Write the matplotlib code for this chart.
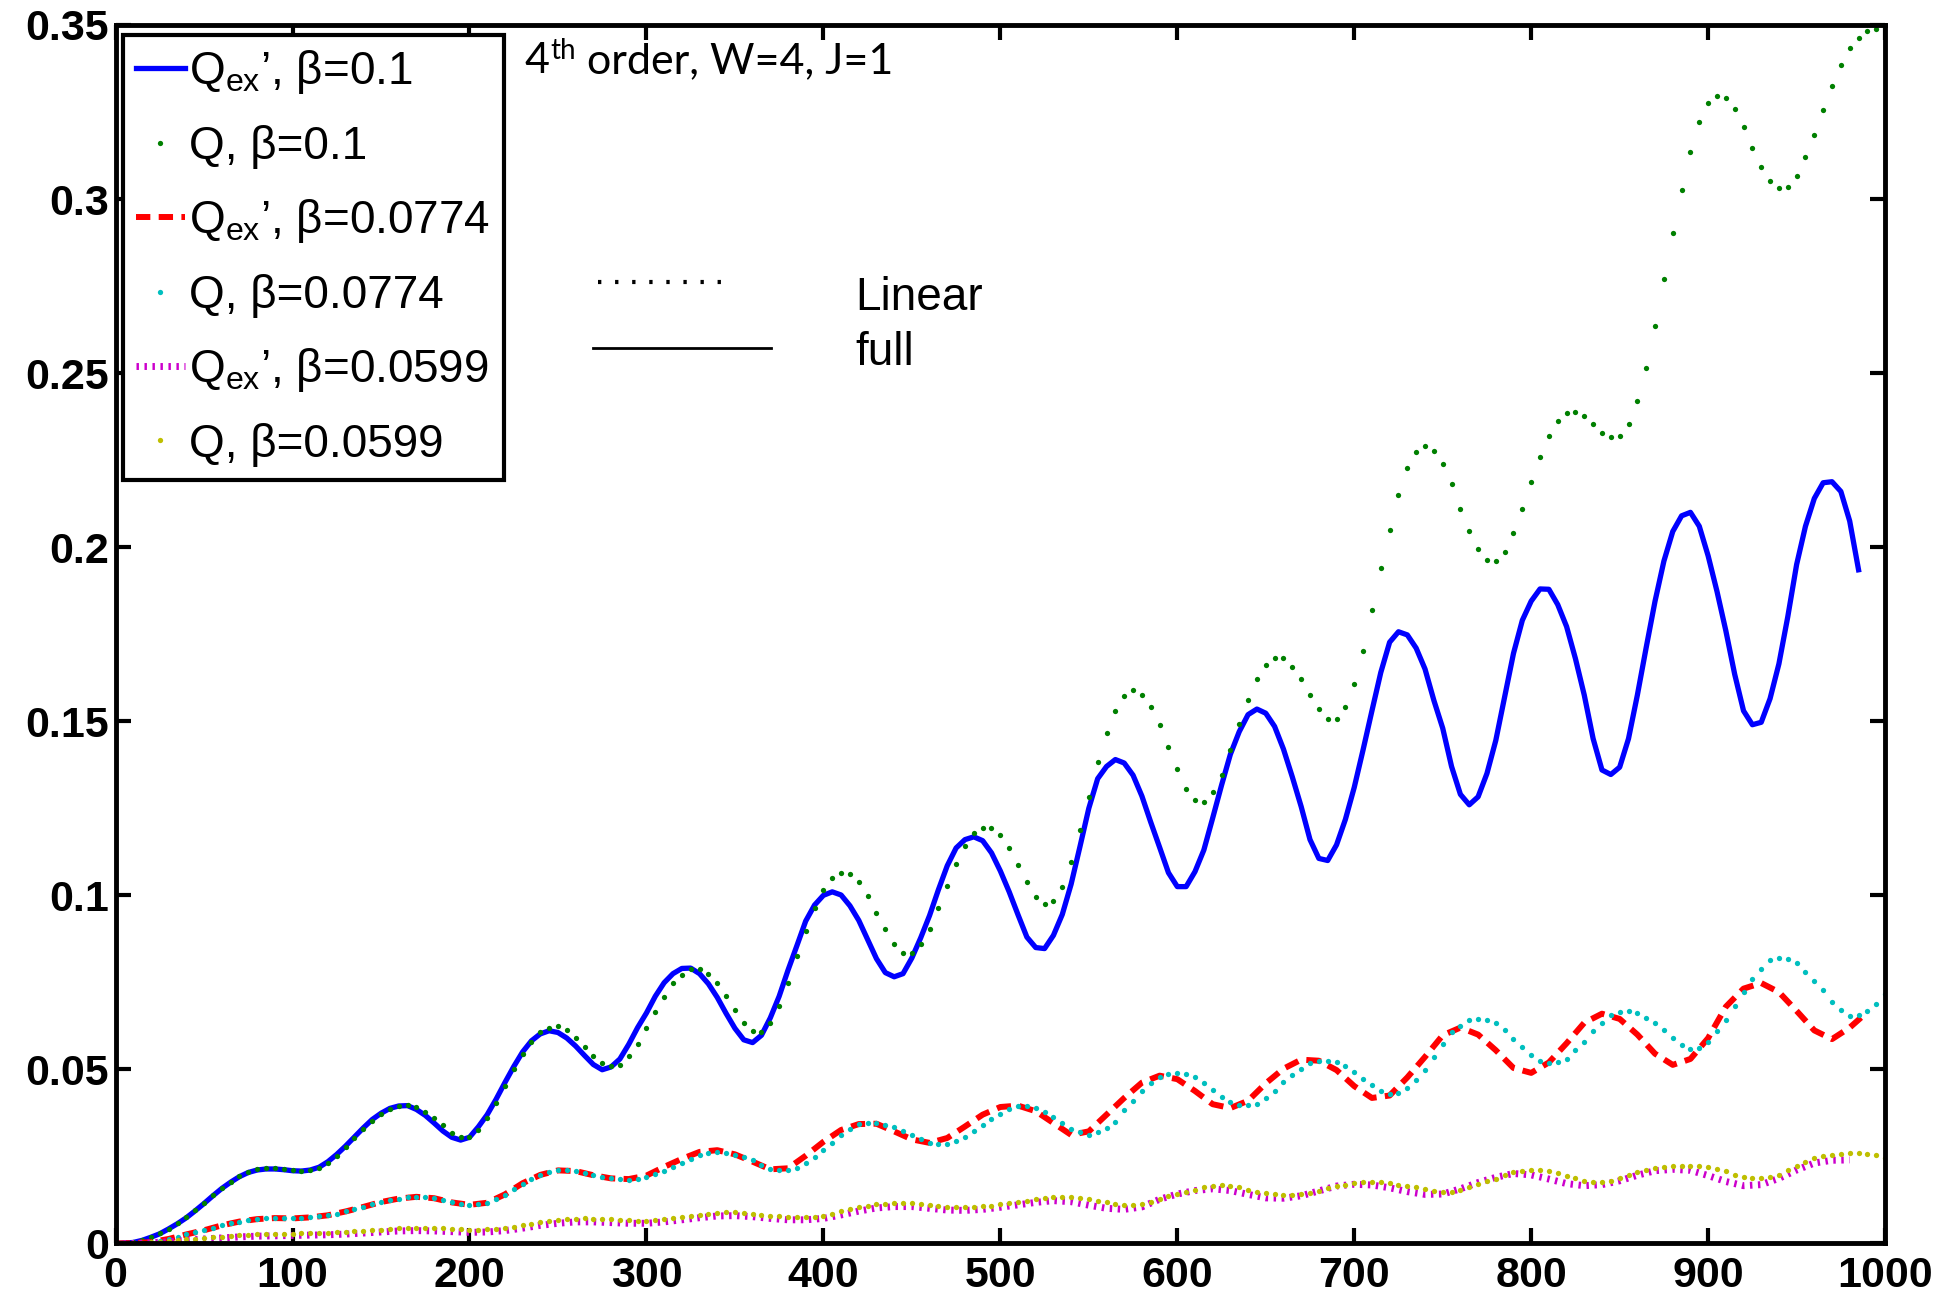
import numpy as np
import matplotlib
matplotlib.use("Agg")
import matplotlib.pyplot as plt

plt.rcParams["font.family"] = "Liberation Sans"
plt.rcParams["mathtext.fontset"] = "custom"
plt.rcParams["mathtext.rm"] = "Liberation Sans"
plt.rcParams["mathtext.it"] = "Liberation Sans:italic"

# sample spacing of the curves (x units)
step_fine = 5
step_coarse = 10

# Q_ex, beta=0.1 (solid blue), x = 0..985 every 5
qex_01 = [
    0.0000, 0.0001, 0.0003, 0.0009, 0.0018, 0.0028, 0.0042, 0.0057, 0.0074, 0.0094,
    0.0115, 0.0137, 0.0158, 0.0176, 0.0192, 0.0204, 0.0211, 0.0214, 0.0214, 0.0212,
    0.0209, 0.0208, 0.0211, 0.0219, 0.0235, 0.0256, 0.0280, 0.0306, 0.0332, 0.0356,
    0.0374, 0.0388, 0.0395, 0.0396, 0.0385, 0.0368, 0.0346, 0.0323, 0.0305, 0.0297,
    0.0305, 0.0335, 0.0370, 0.0414, 0.0462, 0.0508, 0.0550, 0.0582, 0.0602, 0.0611,
    0.0606, 0.0590, 0.0567, 0.0540, 0.0514, 0.0499, 0.0507, 0.0530, 0.0572, 0.0620,
    0.0662, 0.0710, 0.0749, 0.0775, 0.0790, 0.0791, 0.0775, 0.0746, 0.0707, 0.0661,
    0.0618, 0.0585, 0.0577, 0.0598, 0.0648, 0.0710, 0.0785, 0.0855, 0.0926, 0.0972,
    0.1000, 0.1010, 0.1001, 0.0970, 0.0928, 0.0873, 0.0818, 0.0778, 0.0766, 0.0775,
    0.0820, 0.0878, 0.0942, 0.1016, 0.1085, 0.1136, 0.1160, 0.1168, 0.1157, 0.1122,
    0.1070, 0.1010, 0.0944, 0.0880, 0.0850, 0.0847, 0.0885, 0.0945, 0.1032, 0.1140,
    0.1250, 0.1335, 0.1370, 0.1390, 0.1380, 0.1345, 0.1285, 0.1210, 0.1138, 0.1065,
    0.1025, 0.1025, 0.1068, 0.1130, 0.1222, 0.1316, 0.1405, 0.1470, 0.1519, 0.1535,
    0.1523, 0.1485, 0.1420, 0.1340, 0.1255, 0.1160, 0.1106, 0.1100, 0.1145, 0.1218,
    0.1310, 0.1418, 0.1530, 0.1640, 0.1727, 0.1757, 0.1748, 0.1710, 0.1650, 0.1560,
    0.1480, 0.1370, 0.1290, 0.1260, 0.1283, 0.1350, 0.1445, 0.1570, 0.1695, 0.1790,
    0.1845, 0.1880, 0.1879, 0.1835, 0.1772, 0.1680, 0.1575, 0.1450, 0.1360, 0.1347,
    0.1368, 0.1450, 0.1575, 0.1712, 0.1845, 0.1960, 0.2045, 0.2090, 0.2100, 0.2060,
    0.1975, 0.1873, 0.1760, 0.1635, 0.1530, 0.1490, 0.1497, 0.1565, 0.1665, 0.1800,
    0.1950, 0.2060, 0.2140, 0.2185, 0.2188, 0.2160, 0.2075, 0.1935,
]

# Q, beta=0.1 (green dots), x = 0..1000 every 5
q_01 = [
    0.0000, 0.0001, 0.0003, 0.0009, 0.0018, 0.0029, 0.0043, 0.0058, 0.0075, 0.0095,
    0.0116, 0.0138, 0.0159, 0.0177, 0.0193, 0.0205, 0.0213, 0.0216, 0.0216, 0.0214,
    0.0211, 0.0209, 0.0211, 0.0218, 0.0232, 0.0252, 0.0276, 0.0302, 0.0328, 0.0353,
    0.0372, 0.0387, 0.0396, 0.0398, 0.0392, 0.0378, 0.0361, 0.0340, 0.0318, 0.0305,
    0.0306, 0.0326, 0.0360, 0.0404, 0.0452, 0.0500, 0.0545, 0.0580, 0.0606, 0.0620,
    0.0624, 0.0613, 0.0591, 0.0565, 0.0538, 0.0519, 0.0509, 0.0514, 0.0538, 0.0573,
    0.0618, 0.0664, 0.0709, 0.0747, 0.0771, 0.0788, 0.0787, 0.0774, 0.0749, 0.0711,
    0.0670, 0.0634, 0.0610, 0.0606, 0.0632, 0.0682, 0.0749, 0.0825, 0.0898, 0.0964,
    0.1015, 0.1050, 0.1065, 0.1061, 0.1037, 0.0998, 0.0950, 0.0902, 0.0860, 0.0833,
    0.0833, 0.0859, 0.0904, 0.0964, 0.1028, 0.1090, 0.1141, 0.1178, 0.1194, 0.1194,
    0.1173, 0.1135, 0.1087, 0.1037, 0.0996, 0.0975, 0.0984, 0.1025, 0.1096, 0.1187,
    0.1283, 0.1383, 0.1465, 0.1530, 0.1573, 0.1589, 0.1576, 0.1541, 0.1489, 0.1427,
    0.1362, 0.1305, 0.1273, 0.1269, 0.1296, 0.1346, 0.1416, 0.1492, 0.1561, 0.1621,
    0.1661, 0.1681, 0.1681, 0.1657, 0.1621, 0.1576, 0.1535, 0.1507, 0.1507, 0.1541,
    0.1607, 0.1702, 0.1820, 0.1940, 0.2050, 0.2150, 0.2226, 0.2274, 0.2290, 0.2277,
    0.2240, 0.2180, 0.2110, 0.2047, 0.1994, 0.1962, 0.1960, 0.1986, 0.2040, 0.2110,
    0.2186, 0.2259, 0.2318, 0.2362, 0.2385, 0.2389, 0.2376, 0.2353, 0.2328, 0.2315,
    0.2320, 0.2355, 0.2420, 0.2515, 0.2636, 0.2769, 0.2902, 0.3027, 0.3136, 0.3222,
    0.3275, 0.3295, 0.3290, 0.3258, 0.3206, 0.3147, 0.3093, 0.3053, 0.3031, 0.3034,
    0.3065, 0.3120, 0.3185, 0.3257, 0.3326, 0.3386, 0.3433, 0.3463, 0.3482, 0.3489,
    0.3494,
]

# Q_ex, beta=0.0774 (red dashed), x = 0..990 every 10
qex_0774 = [
    0.0000, 0.0001, 0.0004, 0.0013, 0.0026, 0.0038, 0.0052, 0.0063, 0.0070, 0.0073,
    0.0072, 0.0075, 0.0081, 0.0092, 0.0105, 0.0119, 0.0129, 0.0134, 0.0130, 0.0118,
    0.0111, 0.0117, 0.0141, 0.0173, 0.0197, 0.0210, 0.0208, 0.0196, 0.0187, 0.0185,
    0.0195, 0.0220, 0.0243, 0.0263, 0.0268, 0.0256, 0.0235, 0.0213, 0.0216, 0.0252,
    0.0292, 0.0326, 0.0343, 0.0344, 0.0322, 0.0299, 0.0289, 0.0303, 0.0336, 0.0370,
    0.0392, 0.0396, 0.0380, 0.0346, 0.0312, 0.0322, 0.0370, 0.0418, 0.0462, 0.0482,
    0.0472, 0.0438, 0.0400, 0.0389, 0.0410, 0.0460, 0.0502, 0.0528, 0.0525, 0.0498,
    0.0452, 0.0418, 0.0425, 0.0477, 0.0536, 0.0598, 0.0620, 0.0600, 0.0555, 0.0504,
    0.0490, 0.0520, 0.0575, 0.0634, 0.0660, 0.0645, 0.0600, 0.0545, 0.0513, 0.0530,
    0.0590, 0.0680, 0.0732, 0.0748, 0.0722, 0.0668, 0.0612, 0.0587, 0.0620, 0.0665,
]

# Q, beta=0.0774 (cyan dots), x = 0..1000 every 5
q_0774 = [
    0.0000, 0.0000, 0.0001, 0.0002, 0.0004, 0.0008, 0.0013, 0.0019, 0.0026, 0.0032,
    0.0038, 0.0045, 0.0052, 0.0058, 0.0063, 0.0067, 0.0070, 0.0072, 0.0073, 0.0073,
    0.0072, 0.0073, 0.0075, 0.0078, 0.0081, 0.0086, 0.0092, 0.0098, 0.0105, 0.0112,
    0.0119, 0.0125, 0.0129, 0.0133, 0.0134, 0.0133, 0.0130, 0.0124, 0.0118, 0.0113,
    0.0111, 0.0112, 0.0117, 0.0127, 0.0140, 0.0156, 0.0172, 0.0186, 0.0197, 0.0205,
    0.0210, 0.0210, 0.0208, 0.0202, 0.0196, 0.0191, 0.0189, 0.0185, 0.0183, 0.0185,
    0.0190, 0.0199, 0.0209, 0.0220, 0.0232, 0.0243, 0.0254, 0.0260, 0.0263, 0.0261,
    0.0254, 0.0247, 0.0239, 0.0226, 0.0215, 0.0211, 0.0211, 0.0218, 0.0230, 0.0248,
    0.0268, 0.0290, 0.0311, 0.0328, 0.0343, 0.0346, 0.0345, 0.0341, 0.0335, 0.0323,
    0.0311, 0.0300, 0.0290, 0.0287, 0.0287, 0.0295, 0.0306, 0.0322, 0.0340, 0.0357,
    0.0373, 0.0386, 0.0395, 0.0394, 0.0388, 0.0377, 0.0364, 0.0347, 0.0330, 0.0319,
    0.0312, 0.0319, 0.0331, 0.0350, 0.0382, 0.0410, 0.0439, 0.0460, 0.0477, 0.0488,
    0.0490, 0.0487, 0.0477, 0.0461, 0.0442, 0.0422, 0.0407, 0.0397, 0.0397, 0.0401,
    0.0417, 0.0439, 0.0464, 0.0483, 0.0501, 0.0517, 0.0523, 0.0525, 0.0521, 0.0511,
    0.0493, 0.0473, 0.0454, 0.0437, 0.0429, 0.0432, 0.0448, 0.0470, 0.0499, 0.0537,
    0.0574, 0.0607, 0.0626, 0.0641, 0.0645, 0.0643, 0.0632, 0.0613, 0.0588, 0.0563,
    0.0542, 0.0523, 0.0519, 0.0520, 0.0531, 0.0555, 0.0578, 0.0609, 0.0633, 0.0656,
    0.0664, 0.0669, 0.0661, 0.0648, 0.0633, 0.0613, 0.0589, 0.0570, 0.0559, 0.0562,
    0.0578, 0.0609, 0.0641, 0.0683, 0.0723, 0.0761, 0.0789, 0.0813, 0.0820, 0.0817,
    0.0805, 0.0781, 0.0755, 0.0727, 0.0695, 0.0672, 0.0653, 0.0656, 0.0667, 0.0688,
    0.0716,
]

# Q_ex, beta=0.0599 (magenta dotted), x = 0..980 every 10
qex_0599 = [
    0.0000, 0.0000, 0.0002, 0.0005, 0.0009, 0.0013, 0.0016, 0.0019, 0.0021, 0.0022,
    0.0023, 0.0024, 0.0025, 0.0027, 0.0030, 0.0033, 0.0036, 0.0037, 0.0036, 0.0034,
    0.0032, 0.0033, 0.0037, 0.0044, 0.0052, 0.0058, 0.0062, 0.0062, 0.0060, 0.0058,
    0.0058, 0.0062, 0.0068, 0.0074, 0.0079, 0.0080, 0.0077, 0.0072, 0.0068, 0.0068,
    0.0072, 0.0082, 0.0093, 0.0102, 0.0106, 0.0106, 0.0101, 0.0096, 0.0095, 0.0098,
    0.0104, 0.0111, 0.0118, 0.0123, 0.0120, 0.0110, 0.0101, 0.0098, 0.0105, 0.0127,
    0.0142, 0.0152, 0.0157, 0.0152, 0.0141, 0.0131, 0.0130, 0.0137, 0.0151, 0.0165,
    0.0170, 0.0168, 0.0160, 0.0149, 0.0141, 0.0142, 0.0157, 0.0175, 0.0190, 0.0201,
    0.0197, 0.0185, 0.0172, 0.0166, 0.0169, 0.0180, 0.0196, 0.0209, 0.0213, 0.0210,
    0.0195, 0.0178, 0.0166, 0.0169, 0.0187, 0.0211, 0.0231, 0.0239, 0.0240,
]

# Q, beta=0.0599 (yellow dots), x = 0..1000 every 5
q_0599 = [
    0.0000, 0.0000, 0.0001, 0.0002, 0.0003, 0.0005, 0.0008, 0.0010, 0.0012, 0.0014,
    0.0016, 0.0018, 0.0020, 0.0022, 0.0023, 0.0025, 0.0026, 0.0027, 0.0027, 0.0028,
    0.0028, 0.0029, 0.0029, 0.0030, 0.0031, 0.0032, 0.0033, 0.0035, 0.0036, 0.0038,
    0.0040, 0.0042, 0.0044, 0.0045, 0.0045, 0.0045, 0.0044, 0.0044, 0.0042, 0.0041,
    0.0040, 0.0040, 0.0041, 0.0043, 0.0045, 0.0048, 0.0053, 0.0057, 0.0061, 0.0065,
    0.0068, 0.0070, 0.0071, 0.0072, 0.0071, 0.0070, 0.0069, 0.0068, 0.0067, 0.0066,
    0.0066, 0.0068, 0.0070, 0.0073, 0.0076, 0.0079, 0.0083, 0.0086, 0.0088, 0.0089,
    0.0089, 0.0087, 0.0085, 0.0082, 0.0080, 0.0078, 0.0077, 0.0076, 0.0076, 0.0077,
    0.0080, 0.0085, 0.0092, 0.0098, 0.0104, 0.0108, 0.0112, 0.0114, 0.0115, 0.0116,
    0.0115, 0.0113, 0.0110, 0.0107, 0.0105, 0.0104, 0.0105, 0.0106, 0.0107, 0.0109,
    0.0112, 0.0115, 0.0118, 0.0122, 0.0127, 0.0131, 0.0133, 0.0134, 0.0133, 0.0131,
    0.0127, 0.0123, 0.0118, 0.0113, 0.0111, 0.0110, 0.0114, 0.0120, 0.0127, 0.0135,
    0.0142, 0.0148, 0.0155, 0.0161, 0.0165, 0.0167, 0.0165, 0.0161, 0.0155, 0.0148,
    0.0145, 0.0142, 0.0140, 0.0138, 0.0141, 0.0145, 0.0152, 0.0158, 0.0164, 0.0169,
    0.0173, 0.0176, 0.0177, 0.0176, 0.0173, 0.0169, 0.0165, 0.0161, 0.0156, 0.0152,
    0.0149, 0.0148, 0.0153, 0.0161, 0.0170, 0.0180, 0.0186, 0.0198, 0.0205, 0.0208,
    0.0211, 0.0211, 0.0208, 0.0203, 0.0195, 0.0188, 0.0180, 0.0177, 0.0177, 0.0180,
    0.0188, 0.0198, 0.0205, 0.0211, 0.0216, 0.0219, 0.0222, 0.0222, 0.0223, 0.0223,
    0.0219, 0.0214, 0.0208, 0.0198, 0.0192, 0.0188, 0.0188, 0.0191, 0.0198, 0.0211,
    0.0223, 0.0234, 0.0245, 0.0250, 0.0255, 0.0258, 0.0261, 0.0261, 0.0258, 0.0253,
    0.0245,
]

labels = [
    r"Q$_{\mathrm{ex}}$’, β=0.1",
    "Q, β=0.1",
    r"Q$_{\mathrm{ex}}$’, β=0.0774",
    "Q, β=0.0774",
    r"Q$_{\mathrm{ex}}$’, β=0.0599",
    "Q, β=0.0599",
]

x_ticks = list(range(0, 1001, 100))
y_ticks = [0, 0.05, 0.1, 0.15, 0.2, 0.25, 0.3, 0.35]
y_tick_labels = ["0", "0.05", "0.1", "0.15", "0.2", "0.25", "0.3", "0.35"]


def xs(values, step):
    return np.arange(len(values)) * step


fig = plt.figure(figsize=(19.46, 12.98), dpi=100)
ax = fig.add_axes([0.0594, 0.042, 0.9093, 0.9388])

dot = dict(linestyle="none", marker="o", markersize=3.8, markeredgewidth=0)
ax.plot(xs(qex_01, step_fine), qex_01, color=(0, 0, 1), lw=3.8, label=labels[0])
ax.plot(xs(q_01, step_fine), q_01, color=(0, 0.5, 0), label=labels[1], **dot)
ax.plot(xs(qex_0774, step_coarse), qex_0774, color=(1, 0, 0), lw=4.3,
        dashes=(2.4, 1.4), label=labels[2])
ax.plot(xs(q_0774, step_fine), q_0774, color=(0, 0.75, 0.75), label=labels[3], **dot)
ax.plot(xs(qex_0599, step_coarse), qex_0599, color=(0.8, 0, 0.8), lw=5,
        dashes=(0.35, 0.8), dash_capstyle="butt", label=labels[4])
ax.plot(xs(q_0599, step_fine), q_0599, color=(0.75, 0.75, 0), label=labels[5], **dot)

ax.set_xlim(0, 1000)
ax.set_ylim(0, 0.35)
ax.set_xticks(x_ticks)
ax.set_xticklabels([str(t) for t in x_ticks])
ax.set_yticks(y_ticks)
ax.set_yticklabels(y_tick_labels)
ax.tick_params(direction="in", length=11, width=3, top=True, right=True,
               labelsize=31)
ax.tick_params(axis="x", pad=9)
ax.tick_params(axis="y", pad=5)
for lab in ax.get_xticklabels() + ax.get_yticklabels():
    lab.set_fontweight("bold")
for sp in ax.spines.values():
    sp.set_linewidth(3.5)

leg = ax.legend(loc="upper left", bbox_to_anchor=(0.004, 0.992),
                borderaxespad=0, fontsize=33, fancybox=False, framealpha=1,
                edgecolor="black", handlelength=1.05, handletextpad=0.1,
                borderpad=0.3, labelspacing=0.62, numpoints=1)
leg.get_frame().set_linewidth(3)

# title-like note: 4th order, W=4, J=1
t1 = ax.text(0.231, 0.9606, "4", transform=ax.transAxes, fontsize=31,
             family="Lato", va="baseline")
t2 = ax.annotate("th", xy=(1, 0), xycoords=t1, xytext=(1, 15),
                 textcoords="offset points", fontsize=20, family="Lato",
                 va="baseline")
ax.annotate(" order, W=4, J=1", xy=(1, 0), xycoords=(t2, t1), fontsize=31,
            family="Lato", va="bottom")

# line style key
ax.plot([0.2727, 0.349], [0.789, 0.789], transform=ax.transAxes,
        color="black", lw=3, dashes=(0.8, 3.3))
ax.plot([0.2699, 0.3704], [0.735, 0.735], transform=ax.transAxes,
        color="black", lw=2)
ax.text(0.418, 0.766, "Linear", transform=ax.transAxes, fontsize=33,
        va="baseline")
ax.text(0.418, 0.721, "full", transform=ax.transAxes, fontsize=33,
        va="baseline")

fig.savefig("out.png", dpi=100)
